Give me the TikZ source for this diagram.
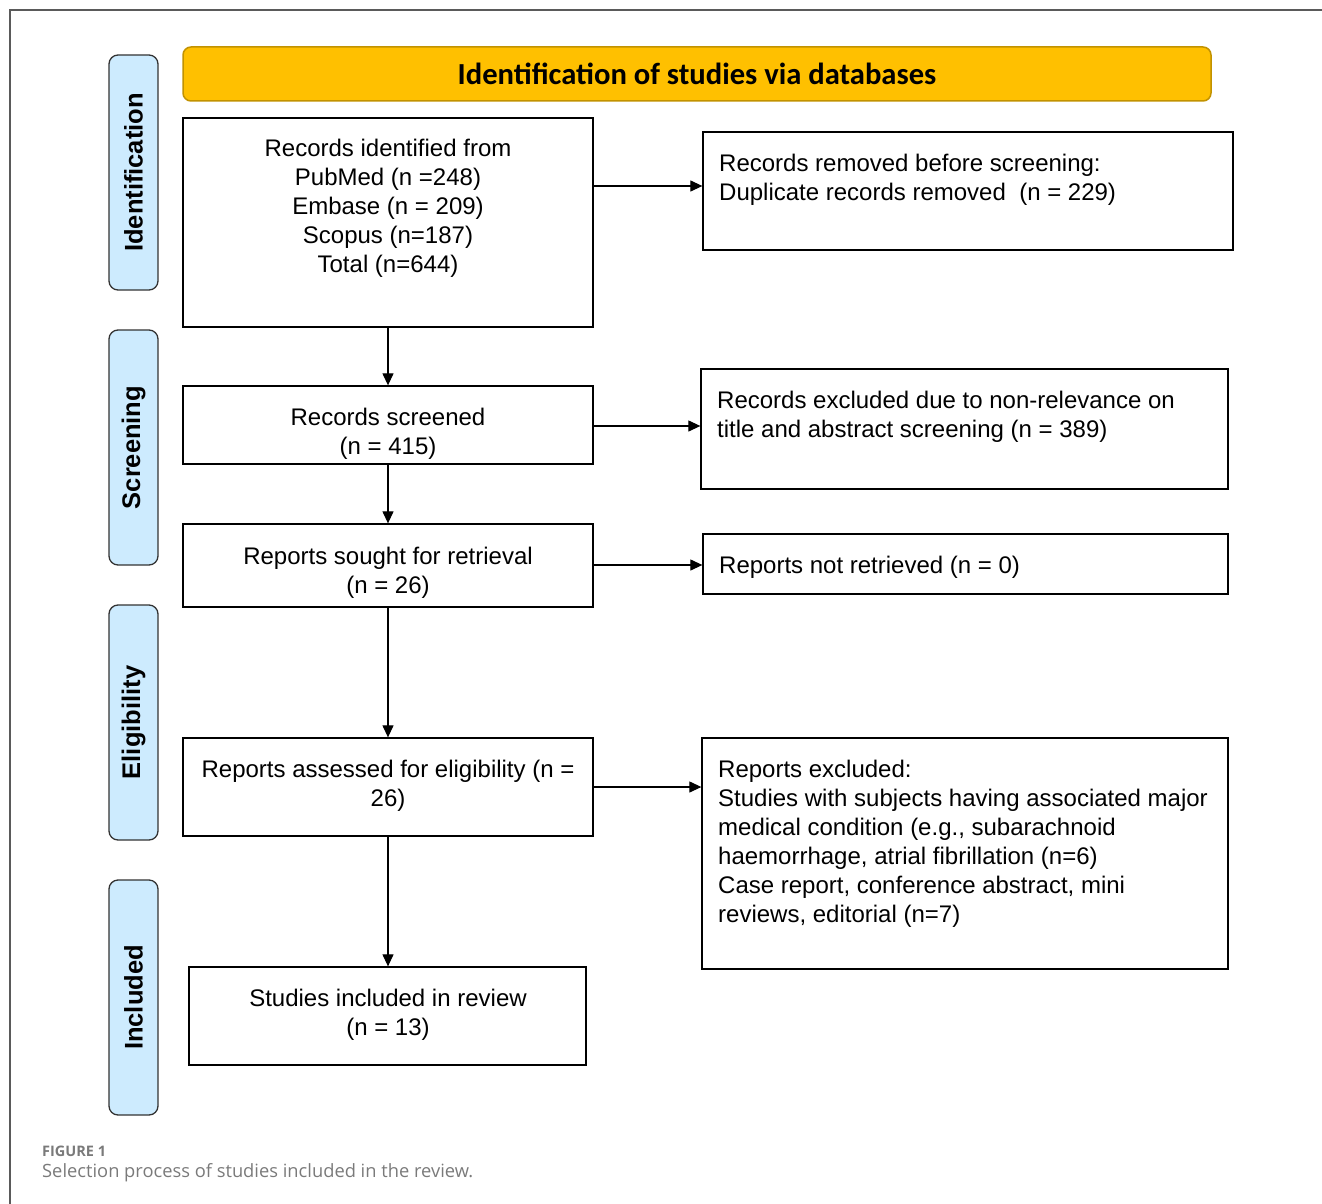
\documentclass[tikz,border=0pt]{standalone}
\usepackage{fontspec}
\setmainfont{Liberation Sans}
\newfontfamily\hdrfont{Carlito}
\newfontfamily\capfont{Open Sans}
\usetikzlibrary{arrows.meta}
\definecolor{hdrfill}{HTML}{FFC000}
\definecolor{hdrdraw}{HTML}{C29200}
\definecolor{sidefill}{HTML}{CDEBFE}
\definecolor{framecol}{HTML}{5A5A5A}
\definecolor{capgray}{HTML}{7A7A7A}
\begin{document}
\begin{tikzpicture}[x=1pt,y=-1pt,
  box/.style={draw=black, line width=1.3pt, inner sep=0pt},
  txt/.style={inner sep=0pt, align=center, font=\fontsize{24}{29}\selectfont},
  ltxt/.style={inner sep=0pt, align=left, font=\fontsize{24}{29}\selectfont},
  hdr/.style={draw=hdrdraw, fill=hdrfill, line width=1.5pt, rounded corners=8pt, inner sep=0pt,
     font=\hdrfont\bfseries\fontsize{30.6}{34}\selectfont},
  side/.style={draw=black!80, fill=sidefill, line width=1.3pt, rounded corners=9pt, inner sep=0pt,
     rotate=90, font=\bfseries\fontsize{25.5}{29}\selectfont},
  arr/.style={draw=black, line width=1.2pt, -{Triangle[length=12pt,width=11pt]}}
]
\useasboundingbox (0,0) rectangle (1322,1204);
\draw[framecol, line width=1.3pt] (1322,10) -- (10,10) -- (10,1204);

\node[hdr, minimum width=1028, minimum height=54] (hdr) at (697,74) {Identification of studies via databases};

\node[side, minimum width=235, minimum height=49] (s1) at (133.5,172.5) {Identification};
\node[side, minimum width=235, minimum height=49] (s2) at (133.5,447.5) {Screening};
\node[side, minimum width=235, minimum height=49] (s3) at (133.5,722.5) {Eligibility};
\node[side, minimum width=235, minimum height=49] (s4) at (133.5,997.5) {Included};

% left column
\node[box, minimum width=410, minimum height=209] (b1) at (388,222.5) {};
\node[txt, anchor=north] (t1) at (388,139) {Records identified from\\PubMed (n =248)\\Embase (n = 209)\\Scopus (n=187)\\Total (n=644)};
\node[box, minimum width=410, minimum height=78] (b2) at (388,425) {};
\node[txt, anchor=north] (t2) at (388,408) {Records screened\\(n = 415)};
\node[box, minimum width=410, minimum height=83] (b3) at (388,565.5) {};
\node[txt, anchor=north] (t3) at (388,547) {Reports sought for retrieval\\(n = 26)};
\node[box, minimum width=410, minimum height=98] (b4) at (388,787) {};
\node[txt, anchor=north] (t4) at (388,760) {Reports assessed for eligibility (n =\\26)};
\node[box, minimum width=397, minimum height=98] (b5) at (387.5,1016) {};
\node[txt, anchor=north] (t5) at (388,989) {Studies included in review\\(n = 13)};

% right column
\node[box, minimum width=530, minimum height=118] (r1) at (968,191) {};
\node[ltxt, anchor=north west] (u1) at (719,154) {Records removed before screening:\\Duplicate records removed\ \ (n = 229)};
\node[box, minimum width=527, minimum height=120] (r2) at (964.5,429) {};
\node[ltxt, anchor=north west] (u2) at (717,391) {Records excluded due to non-relevance on\\title and abstract screening (n = 389)};
\node[box, minimum width=525, minimum height=60] (r3) at (965.5,564) {};
\node[ltxt, anchor=north west] (u3) at (719,556) {Reports not retrieved (n = 0)};
\node[box, minimum width=526, minimum height=231] (r4) at (965,853.5) {};
\node[ltxt, anchor=north west] (u4) at (718,760) {Reports excluded:\\Studies with subjects having associated major\\medical condition (e.g., subarachnoid\\haemorrhage, atrial fibrillation (n=6)\\Case report, conference abstract, mini\\reviews, editorial (n=7)};

% connectors
\draw[arr] (b1) -- (b2);
\draw[arr] (b2) -- (b3);
\draw[arr] (b3) -- (b4);
\draw[arr] (b4.south -| b3.south) -- (b5.north -| b3.south);
\draw[arr] (b1.east |- 0,186) -- (r1.west |- 0,186);
\draw[arr] (b2.east |- 0,426) -- (r2.west |- 0,426);
\draw[arr] (b3.east |- 0,565) -- (r3.west |- 0,565);
\draw[arr] (b4.east |- 0,787) -- (r4.west |- 0,787);

% caption
\node[anchor=west, inner sep=0pt, text=capgray, font=\capfont\fontsize{14.5}{16}\selectfont\bfseries] (cap1) at (42,1151) {FIGURE 1};
\node[anchor=west, inner sep=0pt, text=capgray, font=\capfont\fontsize{18.3}{22}\selectfont] (cap2) at (42,1173) {Selection process of studies included in the review.};
\end{tikzpicture}
\end{document}
